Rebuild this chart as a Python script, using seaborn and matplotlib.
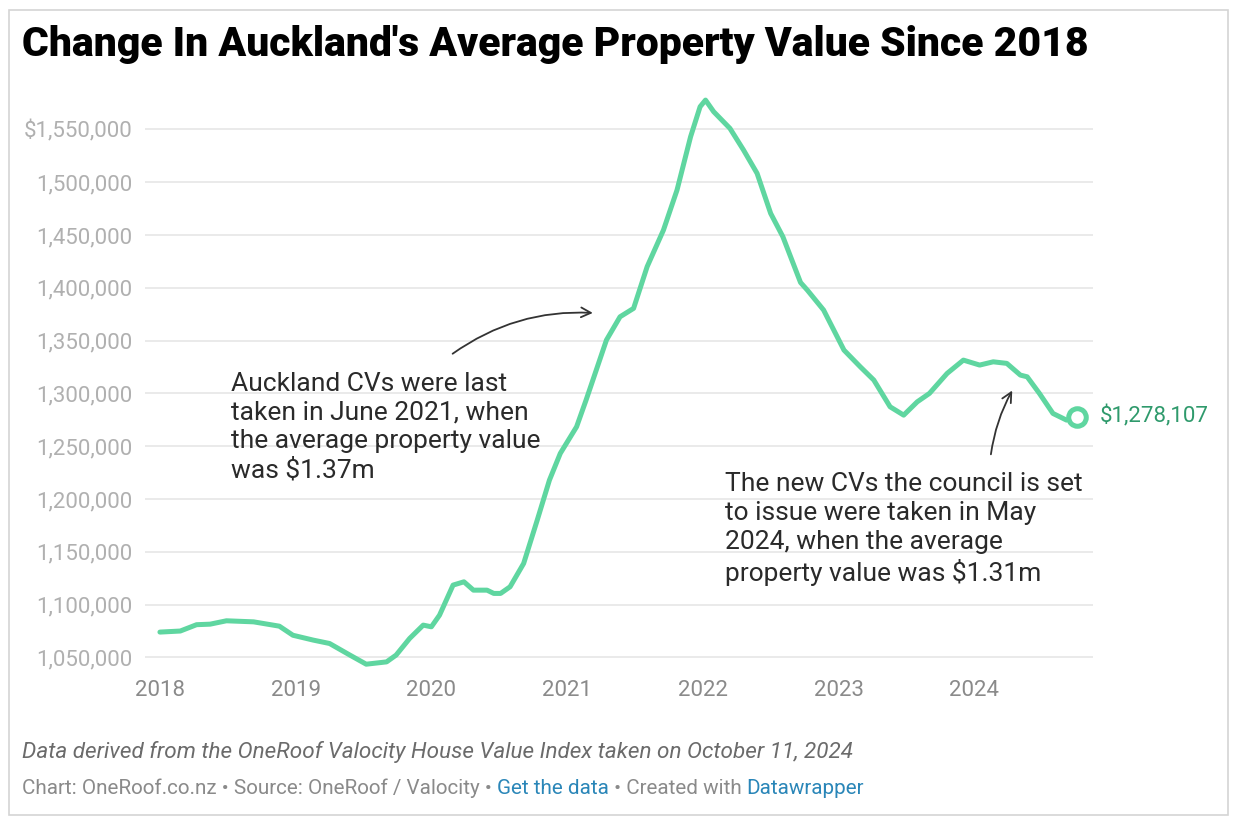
import matplotlib
matplotlib.use("Agg")
import matplotlib.pyplot as plt
import matplotlib.ticker as mticker
from matplotlib.patches import Rectangle
import pandas as pd
import seaborn as sns

# Values (decimal year, average value in $)
years = [2018.00, 2018.15, 2018.27, 2018.37, 2018.49, 2018.69, 2018.88, 2018.98,
         2019.13, 2019.25, 2019.40, 2019.52, 2019.67, 2019.74, 2019.84, 2019.94,
         2020.00, 2020.06, 2020.16, 2020.24, 2020.31, 2020.41, 2020.46, 2020.51,
         2020.58, 2020.68, 2020.78, 2020.87, 2020.95, 2021.07, 2021.14, 2021.19,
         2021.29, 2021.39, 2021.49, 2021.59, 2021.71, 2021.81, 2021.91, 2021.98,
         2022.02, 2022.08, 2022.20, 2022.30, 2022.40, 2022.50, 2022.59, 2022.72,
         2022.77, 2022.89, 2023.04, 2023.16, 2023.26, 2023.38, 2023.48, 2023.58,
         2023.67, 2023.80, 2023.92, 2024.04, 2024.14, 2024.24, 2024.34, 2024.39,
         2024.48, 2024.58, 2024.68, 2024.76]
values = [1074000, 1075000, 1081000, 1081500, 1084700, 1083700, 1079600, 1071000,
          1066400, 1063200, 1052200, 1043600, 1045800, 1052200, 1068000, 1080600,
          1079000, 1090000, 1118500, 1121600, 1113700, 1113700, 1110600, 1110600,
          1116900, 1139000, 1180000, 1217900, 1243200, 1268400, 1293700, 1312600,
          1350500, 1372500, 1380500, 1420000, 1454600, 1492500, 1543000, 1571400,
          1577700, 1566700, 1550900, 1530400, 1508300, 1470400, 1448300, 1405000,
          1397800, 1378900, 1341000, 1325200, 1312600, 1287300, 1279400, 1292000,
          1300000, 1318900, 1331500, 1326800, 1329900, 1328400, 1317300, 1315700,
          1300000, 1281000, 1274700, 1278107]
year_ticks = [2018, 2019, 2020, 2021, 2022, 2023, 2024]
value_ticks = [1050000, 1100000, 1150000, 1200000, 1250000, 1300000,
               1350000, 1400000, 1450000, 1500000, 1550000]

df = pd.DataFrame({'year': years, 'value': values})

sns.set_style('white')
plt.rcParams['font.family'] = ['Roboto', 'DejaVu Sans']

line_color = '#5fd6a0'
label_green = '#2f9a6c'

fig = plt.figure(figsize=(12.4, 8.24), dpi=100)
ax = fig.add_axes([145 / 1240, 1 - 668 / 824, (1093 - 145) / 1240, (668 - 95) / 824])

sns.lineplot(data=df, x='year', y='value', ax=ax, color=line_color,
             linewidth=3.6, clip_on=False, zorder=3)

# Last value marker and label
last = df.iloc[-1]
ax.scatter([last['year']], [last['value']], s=160, facecolor='white',
           edgecolor=line_color, linewidth=3.6, zorder=4, clip_on=False)
ax.annotate(f"${last['value']:,.0f}", xy=(last['year'], last['value']),
            xytext=(16, 0), textcoords='offset points', va='center', ha='left',
            fontsize=16, color=label_green, annotation_clip=False)

ax.set_xlim(2017.89, 2024.875)
ax.set_ylim(1040000, 1582500)
ax.set_xticks(year_ticks)
ax.set_yticks(value_ticks)
ax.yaxis.set_major_formatter(mticker.FuncFormatter(
    lambda v, p: f"${v:,.0f}" if v == value_ticks[-1] else f"{v:,.0f}"))
ax.tick_params(axis='y', length=0, pad=9, labelsize=16, labelcolor='#b0b0b0')
ax.tick_params(axis='x', length=0, pad=9, labelsize=16, labelcolor='#8a8a8a')
ax.yaxis.grid(True, color='#e8e8e8', linewidth=1.3)
ax.xaxis.grid(False)
for s in ax.spines.values():
    s.set_visible(False)
ax.set_xlabel('')
ax.set_ylabel('')

# Annotations
ax.text(2018.52, 1268000, "Auckland CVs were last\ntaken in June 2021, when\n"
        "the average property value\nwas $1.37m",
        fontsize=19, color='#2a2a2a', va='center', ha='left', linespacing=1.25)
ax.annotate('', xy=(2021.21, 1376000), xytext=(2020.14, 1336000),
            arrowprops=dict(arrowstyle='->,head_length=0.7,head_width=0.35',
                            color='#333333', lw=1.3,
                            connectionstyle='arc3,rad=-0.18'))

ax.text(2022.16, 1171600, "The new CVs the council is set\nto issue were taken in May\n"
        "2024, when the average\nproperty value was $1.31m",
        fontsize=19, color='#2a2a2a', va='center', ha='left', linespacing=1.25)
ax.annotate('', xy=(2024.29, 1305000), xytext=(2024.12, 1239700),
            arrowprops=dict(arrowstyle='->,head_length=0.7,head_width=0.35',
                            color='#333333', lw=1.3,
                            connectionstyle='arc3,rad=-0.1'))

# Title
fig.text(22 / 1240, 1 - 45 / 824, "Change In Auckland's Average Property Value Since 2018",
         fontsize=29.4, fontweight='black', color='black', va='center', ha='left')

# Footer
fig.text(22 / 1240, 1 - 752 / 824,
         "Data derived from the OneRoof Valocity House Value Index taken on October 11, 2024",
         fontsize=16.2, style='italic', color='#6b6b6b', va='center', ha='left')
fs = 14.9
t1 = fig.text(22 / 1240, 1 - 788 / 824,
              "Chart: OneRoof.co.nz \u2022 Source: OneRoof / Valocity \u2022 ",
              fontsize=fs, color='#8a8a8a', va='center', ha='left')
t2 = fig.text(0, 0, "Get the data", fontsize=fs, color='#2a86b8', va='center', ha='left')
t3 = fig.text(0, 0, " \u2022 Created with ", fontsize=fs, color='#8a8a8a', va='center', ha='left')
t4 = fig.text(0, 0, "Datawrapper", fontsize=fs, color='#2a86b8', va='center', ha='left')
fig.canvas.draw()
r = fig.canvas.get_renderer()
prev = t1
for t in (t2, t3, t4):
    bb = prev.get_window_extent(renderer=r)
    t.set_position((bb.x1 / 1240, 1 - 788 / 824))
    prev = t
    fig.canvas.draw()

# Light frame around the figure
fig.patches.append(Rectangle((9 / 1240, 9 / 824), 1219 / 1240, 805 / 824,
                             transform=fig.transFigure, fill=False,
                             edgecolor='#d4d4d4', linewidth=1.2))

fig.savefig('out.png', dpi=100)
